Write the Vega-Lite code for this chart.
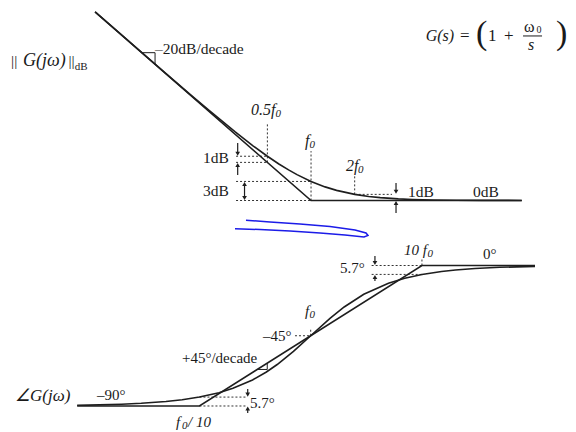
{
  "$schema": "https://vega.github.io/schema/vega-lite/v6.json",
  "background": "white",
  "padding": 0,
  "spacing": 0,
  "config": {"view": {"stroke": null}},
  "datasets": {
    "magSolid": [
      {"g": "asym", "i": 0, "f": 0.0324, "v": 29.79},
      {"g": "asym", "i": 1, "f": 1, "v": 0},
      {"g": "asym", "i": 2, "f": 28.4, "v": 0},
      {"g": "curve", "i": 0, "f": 0.0324, "v": 29.79},
      {"g": "curve", "i": 1, "f": 0.05, "v": 26.03},
      {"g": "curve", "i": 2, "f": 0.07, "v": 23.12},
      {"g": "curve", "i": 3, "f": 0.1, "v": 20.04},
      {"g": "curve", "i": 4, "f": 0.15, "v": 16.58},
      {"g": "curve", "i": 5, "f": 0.2, "v": 14.15},
      {"g": "curve", "i": 6, "f": 0.3, "v": 10.83},
      {"g": "curve", "i": 7, "f": 0.4, "v": 8.6},
      {"g": "curve", "i": 8, "f": 0.5, "v": 6.99},
      {"g": "curve", "i": 9, "f": 0.6, "v": 5.77},
      {"g": "curve", "i": 10, "f": 0.7, "v": 4.83},
      {"g": "curve", "i": 11, "f": 0.8, "v": 4.09},
      {"g": "curve", "i": 12, "f": 1, "v": 3.01},
      {"g": "curve", "i": 13, "f": 1.25, "v": 2.15},
      {"g": "curve", "i": 14, "f": 1.5, "v": 1.6},
      {"g": "curve", "i": 15, "f": 2, "v": 0.97},
      {"g": "curve", "i": 16, "f": 2.5, "v": 0.64},
      {"g": "curve", "i": 17, "f": 3, "v": 0.46},
      {"g": "curve", "i": 18, "f": 4, "v": 0.26},
      {"g": "curve", "i": 19, "f": 5, "v": 0.17},
      {"g": "curve", "i": 20, "f": 7, "v": 0.09},
      {"g": "curve", "i": 21, "f": 10, "v": 0.04},
      {"g": "curve", "i": 22, "f": 15, "v": 0.02},
      {"g": "curve", "i": 23, "f": 28.4, "v": 0.01}
    ],
    "magTick": [
      {"g": "slope", "i": 0, "f": 0.068, "v": 23.35},
      {"g": "slope", "i": 1, "f": 0.084, "v": 23.35},
      {"g": "slope", "i": 2, "f": 0.084, "v": 21.51}
    ],
    "magDash": [
      {"g": "d1", "f": 0.5, "v": 6.02}, {"g": "d1", "f": 0.5, "v": 12.2},
      {"g": "d2", "f": 0.304, "v": 6.99}, {"g": "d2", "f": 0.5, "v": 6.99},
      {"g": "d3", "f": 0.304, "v": 6.02}, {"g": "d3", "f": 0.5, "v": 6.02},
      {"g": "d4", "f": 0.304, "v": 3.01}, {"g": "d4", "f": 1, "v": 3.01},
      {"g": "d5", "f": 0.304, "v": 0}, {"g": "d5", "f": 1, "v": 0},
      {"g": "d6", "f": 1, "v": 0}, {"g": "d6", "f": 1, "v": 7.8},
      {"g": "d7", "f": 2, "v": 0.97}, {"g": "d7", "f": 2, "v": 3.9},
      {"g": "d8", "f": 2, "v": 0.97}, {"g": "d8", "f": 3.62, "v": 0.97}
    ],
    "magShaft": [
      {"g": "s1", "f": 0.312, "v": 9.08}, {"g": "s1", "f": 0.312, "v": 7.39},
      {"g": "s2", "f": 0.312, "v": 4.03}, {"g": "s2", "f": 0.312, "v": 5.62},
      {"g": "s3", "f": 0.3478, "v": 0.4}, {"g": "s3", "f": 0.3478, "v": 2.61},
      {"g": "s4", "f": 3.856, "v": 2.76}, {"g": "s4", "f": 3.856, "v": 1.37},
      {"g": "s5", "f": 3.856, "v": -1.97}, {"g": "s5", "f": 3.856, "v": -0.4}
    ],
    "magDown": [
      {"f": 0.312, "v": 7.39}, {"f": 0.3478, "v": 0.4}, {"f": 3.856, "v": 1.37}
    ],
    "magUp": [
      {"f": 0.312, "v": 5.62}, {"f": 0.3478, "v": 2.61}, {"f": 3.856, "v": -0.4}
    ],
    "magText": [
      {"t": "||", "f": 0.00853, "v": 22.04},
      {"t": "||", "f": 0.02122, "v": 22.04},
      {"t": "–20dB/decade", "f": 0.084, "v": 23.93},
      {"t": "1dB", "f": 0.1799, "v": 6.71},
      {"t": "3dB", "f": 0.1799, "v": 1.5},
      {"t": "1dB", "f": 4.667, "v": 1.34},
      {"t": "0dB", "f": 13.1, "v": 1.34}
    ],
    "magLabel": [
      {"t": "G(jω)", "f": 0.01032, "v": 22.04}
    ],
    "magItalic": [
      {"t": "0.5f", "f": 0.3857, "v": 14.3},
      {"t": "f", "f": 0.909, "v": 9.4},
      {"t": "2f", "f": 1.743, "v": 5.45}
    ],
    "magSub": [
      {"t": "dB", "f": 0.02345, "v": 21.1}
    ],
    "magSubItalic": [
      {"t": "0", "f": 0.569, "v": 13.67},
      {"t": "0", "f": 0.9765, "v": 8.77},
      {"t": "0", "f": 2.11, "v": 4.82}
    ],
    "formulaText": [
      {"t": "=", "f": 10.66, "v": 25.99},
      {"t": "1", "f": 16.6, "v": 25.99},
      {"t": "+", "f": 21.43, "v": 25.99}
    ],
    "formulaItalic": [
      {"t": "G(s)", "f": 6.18, "v": 25.99}
    ],
    "formulaParen": [
      {"t": "(", "f": 13.74, "v": 26.3},
      {"t": ")", "f": 48.94, "v": 26.3}
    ],
    "formulaOmega": [
      {"t": "ω", "f": 29.44, "v": 27.41}
    ],
    "formulaS": [
      {"t": "s", "f": 31.38, "v": 24.57}
    ],
    "formulaSub": [
      {"t": "0", "f": 35.9, "v": 26.94}
    ],
    "formulaBar": [
      {"g": "bar", "f": 28.98, "v": 25.99}, {"g": "bar", "f": 39.19, "v": 25.99}
    ],
    "phSolid": [
      {"g": "asym", "i": 0, "f": 0.00796, "v": -90},
      {"g": "asym", "i": 1, "f": 0.1, "v": -90},
      {"g": "asym", "i": 2, "f": 10, "v": 0},
      {"g": "asym", "i": 3, "f": 103.8, "v": 0},
      {"g": "curve", "i": 0, "f": 0.00796, "v": -89.54},
      {"g": "curve", "i": 1, "f": 0.01, "v": -89.43},
      {"g": "curve", "i": 2, "f": 0.02, "v": -88.85},
      {"g": "curve", "i": 3, "f": 0.03, "v": -88.28},
      {"g": "curve", "i": 4, "f": 0.05, "v": -87.14},
      {"g": "curve", "i": 5, "f": 0.07, "v": -86.0},
      {"g": "curve", "i": 6, "f": 0.1, "v": -84.29},
      {"g": "curve", "i": 7, "f": 0.15, "v": -81.47},
      {"g": "curve", "i": 8, "f": 0.2, "v": -78.69},
      {"g": "curve", "i": 9, "f": 0.3, "v": -73.3},
      {"g": "curve", "i": 10, "f": 0.4, "v": -68.2},
      {"g": "curve", "i": 11, "f": 0.5, "v": -63.43},
      {"g": "curve", "i": 12, "f": 0.7, "v": -55.01},
      {"g": "curve", "i": 13, "f": 1, "v": -45},
      {"g": "curve", "i": 14, "f": 1.5, "v": -33.69},
      {"g": "curve", "i": 15, "f": 2, "v": -26.57},
      {"g": "curve", "i": 16, "f": 3, "v": -18.43},
      {"g": "curve", "i": 17, "f": 5, "v": -11.31},
      {"g": "curve", "i": 18, "f": 7, "v": -8.13},
      {"g": "curve", "i": 19, "f": 10, "v": -5.71},
      {"g": "curve", "i": 20, "f": 15, "v": -3.81},
      {"g": "curve", "i": 21, "f": 20, "v": -2.86},
      {"g": "curve", "i": 22, "f": 30, "v": -1.91},
      {"g": "curve", "i": 23, "f": 50, "v": -1.15},
      {"g": "curve", "i": 24, "f": 103.8, "v": -0.55}
    ],
    "phTick": [
      {"g": "slope", "i": 0, "f": 0.331, "v": -66.6},
      {"g": "slope", "i": 1, "f": 0.407, "v": -66.6},
      {"g": "slope", "i": 2, "f": 0.407, "v": -62.55}
    ],
    "phDash": [
      {"g": "p1", "f": 0.1, "v": -84.29}, {"g": "p1", "f": 0.266, "v": -84.29},
      {"g": "p2", "f": 0.1, "v": -90}, {"g": "p2", "f": 0.266, "v": -90},
      {"g": "p3", "f": 0.7226, "v": -45}, {"g": "p3", "f": 1, "v": -45},
      {"g": "p4", "f": 1, "v": -45}, {"g": "p4", "f": 1, "v": -40.7},
      {"g": "p5", "f": 3.53, "v": 0}, {"g": "p5", "f": 10, "v": 0},
      {"g": "p6", "f": 3.53, "v": -5.71}, {"g": "p6", "f": 10, "v": -5.71},
      {"g": "p7", "f": 10, "v": 0}, {"g": "p7", "f": 10, "v": 4}
    ],
    "phShaft": [
      {"g": "s1", "f": 0.2716, "v": -79.1}, {"g": "s1", "f": 0.2716, "v": -82.7},
      {"g": "s2", "f": 0.2716, "v": -94.5}, {"g": "s2", "f": 0.2716, "v": -91.6},
      {"g": "s3", "f": 3.78, "v": 6.09}, {"g": "s3", "f": 3.78, "v": 1.6},
      {"g": "s4", "f": 3.78, "v": -9.93}, {"g": "s4", "f": 3.78, "v": -7.31}
    ],
    "phDown": [
      {"f": 0.2716, "v": -82.7}, {"f": 3.78, "v": 1.6}
    ],
    "phUp": [
      {"f": 0.2716, "v": -91.6}, {"f": 3.78, "v": -7.31}
    ],
    "phText": [
      {"t": "–90°", "f": 0.01199, "v": -82.95},
      {"t": "–45°", "f": 0.3725, "v": -45.16},
      {"t": "+45°/decade", "f": 0.06969, "v": -59.25},
      {"t": "5.7°", "f": 0.2847, "v": -88.08},
      {"t": "5.7°", "f": 1.834, "v": -1.6},
      {"t": "0°", "f": 35.38, "v": 7.37}
    ],
    "phLabel": [
      {"t": "∠G(jω)", "f": 0.002198, "v": -83.6}
    ],
    "phItalic": [
      {"t": "f", "f": 0.8888, "v": -29.15},
      {"t": "f", "f": 0.06153, "v": -100.25},
      {"t": "/ 10", "f": 0.07889, "v": -100.25},
      {"t": "10 f", "f": 6.898, "v": 9.93}
    ],
    "phSubItalic": [
      {"t": "0", "f": 0.9755, "v": -31.71},
      {"t": "0", "f": 0.06966, "v": -102.8},
      {"t": "0", "f": 11.23, "v": 7.37}
    ],
    "scribble": [
      {"i": 0, "f": 0.262, "v": 28.95},
      {"i": 1, "f": 0.4306, "v": 27.87},
      {"i": 2, "f": 0.801, "v": 26.58},
      {"i": 3, "f": 1.491, "v": 24.98},
      {"i": 4, "f": 2.502, "v": 22.74},
      {"i": 5, "f": 3.141, "v": 20.82},
      {"i": 6, "f": 3.273, "v": 19.22},
      {"i": 7, "f": 3.013, "v": 18.26},
      {"i": 8, "f": 2.034, "v": 19.54},
      {"i": 9, "f": 1.212, "v": 20.82},
      {"i": 10, "f": 0.6515, "v": 22.1},
      {"i": 11, "f": 0.3502, "v": 23.06},
      {"i": 12, "f": 0.2088, "v": 23.57}
    ]
  },
  "vconcat": [
    {
      "width": 576,
      "height": 215,
      "encoding": {
        "x": {"field": "f", "type": "quantitative", "scale": {"type": "log", "domain": [0.00716, 67.2], "nice": false}, "axis": null},
        "y": {"field": "v", "type": "quantitative", "scale": {"domain": [-2.29, 31.67], "nice": false, "zero": false}, "axis": null}
      },
      "layer": [
        {"data": {"name": "magDash"}, "mark": {"type": "line", "stroke": "#333", "strokeWidth": 1, "strokeDash": [2, 2]}, "encoding": {"detail": {"field": "g"}}},
        {"data": {"name": "magSolid"}, "mark": {"type": "line", "stroke": "#1e1e1e", "strokeWidth": 1.6}, "encoding": {"detail": {"field": "g"}, "order": {"field": "i"}}},
        {"data": {"name": "magTick"}, "mark": {"type": "line", "stroke": "#1e1e1e", "strokeWidth": 1}, "encoding": {"detail": {"field": "g"}, "order": {"field": "i"}}},
        {"data": {"name": "magShaft"}, "mark": {"type": "line", "stroke": "#1e1e1e", "strokeWidth": 1.2}, "encoding": {"detail": {"field": "g"}}},
        {"data": {"name": "magDown"}, "mark": {"type": "point", "shape": "triangle-down", "filled": true, "size": 22, "color": "#1e1e1e", "opacity": 1}},
        {"data": {"name": "magUp"}, "mark": {"type": "point", "shape": "triangle-up", "filled": true, "size": 22, "color": "#1e1e1e", "opacity": 1}},
        {"data": {"name": "magText"}, "mark": {"type": "text", "font": "Liberation Serif", "fontSize": 15.5, "align": "left", "baseline": "middle", "color": "#1a1a1a"}, "encoding": {"text": {"field": "t"}}},
        {"data": {"name": "magLabel"}, "mark": {"type": "text", "font": "Liberation Serif", "fontStyle": "italic", "fontSize": 18, "align": "left", "baseline": "middle", "color": "#1a1a1a"}, "encoding": {"text": {"field": "t"}}},
        {"data": {"name": "magItalic"}, "mark": {"type": "text", "font": "Liberation Serif", "fontStyle": "italic", "fontSize": 16, "align": "left", "baseline": "middle", "color": "#1a1a1a"}, "encoding": {"text": {"field": "t"}}},
        {"data": {"name": "magSub"}, "mark": {"type": "text", "font": "Liberation Serif", "fontSize": 11, "align": "left", "baseline": "middle", "color": "#1a1a1a"}, "encoding": {"text": {"field": "t"}}},
        {"data": {"name": "magSubItalic"}, "mark": {"type": "text", "font": "Liberation Serif", "fontStyle": "italic", "fontSize": 11, "align": "left", "baseline": "middle", "color": "#1a1a1a"}, "encoding": {"text": {"field": "t"}}},
        {"data": {"name": "formulaText"}, "mark": {"type": "text", "font": "Liberation Serif", "fontSize": 17, "align": "left", "baseline": "middle", "color": "#1a1a1a"}, "encoding": {"text": {"field": "t"}}},
        {"data": {"name": "formulaItalic"}, "mark": {"type": "text", "font": "Liberation Serif", "fontStyle": "italic", "fontSize": 16, "align": "left", "baseline": "middle", "color": "#1a1a1a"}, "encoding": {"text": {"field": "t"}}},
        {"data": {"name": "formulaParen"}, "mark": {"type": "text", "font": "Liberation Serif", "fontSize": 34, "align": "left", "baseline": "middle", "color": "#1a1a1a"}, "encoding": {"text": {"field": "t"}}},
        {"data": {"name": "formulaOmega"}, "mark": {"type": "text", "font": "Liberation Serif", "fontSize": 16, "align": "left", "baseline": "middle", "color": "#1a1a1a"}, "encoding": {"text": {"field": "t"}}},
        {"data": {"name": "formulaS"}, "mark": {"type": "text", "font": "Liberation Serif", "fontStyle": "italic", "fontSize": 16, "align": "left", "baseline": "middle", "color": "#1a1a1a"}, "encoding": {"text": {"field": "t"}}},
        {"data": {"name": "formulaSub"}, "mark": {"type": "text", "font": "Liberation Serif", "fontSize": 10, "align": "left", "baseline": "middle", "color": "#1a1a1a"}, "encoding": {"text": {"field": "t"}}},
        {"data": {"name": "formulaBar"}, "mark": {"type": "line", "stroke": "#1a1a1a", "strokeWidth": 1}, "encoding": {"detail": {"field": "g"}}}
      ]
    },
    {
      "width": 576,
      "height": 217,
      "encoding": {
        "x": {"field": "f", "type": "quantitative", "scale": {"type": "log", "domain": [0.001612, 242.5], "nice": false}, "axis": null},
        "y": {"field": "v", "type": "quantitative", "scale": {"domain": [-107.3, 31.71], "nice": false, "zero": false}, "axis": null}
      },
      "layer": [
        {"data": {"name": "scribble"}, "mark": {"type": "line", "stroke": "#1c1ce8", "strokeWidth": 1.5}, "encoding": {"order": {"field": "i"}}},
        {"data": {"name": "phDash"}, "mark": {"type": "line", "stroke": "#333", "strokeWidth": 1, "strokeDash": [2, 2]}, "encoding": {"detail": {"field": "g"}}},
        {"data": {"name": "phSolid"}, "mark": {"type": "line", "stroke": "#1e1e1e", "strokeWidth": 1.6}, "encoding": {"detail": {"field": "g"}, "order": {"field": "i"}}},
        {"data": {"name": "phTick"}, "mark": {"type": "line", "stroke": "#1e1e1e", "strokeWidth": 1}, "encoding": {"detail": {"field": "g"}, "order": {"field": "i"}}},
        {"data": {"name": "phShaft"}, "mark": {"type": "line", "stroke": "#1e1e1e", "strokeWidth": 1.2}, "encoding": {"detail": {"field": "g"}}},
        {"data": {"name": "phDown"}, "mark": {"type": "point", "shape": "triangle-down", "filled": true, "size": 22, "color": "#1e1e1e", "opacity": 1}},
        {"data": {"name": "phUp"}, "mark": {"type": "point", "shape": "triangle-up", "filled": true, "size": 22, "color": "#1e1e1e", "opacity": 1}},
        {"data": {"name": "phText"}, "mark": {"type": "text", "font": "Liberation Serif", "fontSize": 15, "align": "left", "baseline": "middle", "color": "#1a1a1a"}, "encoding": {"text": {"field": "t"}}},
        {"data": {"name": "phLabel"}, "mark": {"type": "text", "font": "Liberation Serif", "fontStyle": "italic", "fontSize": 17, "align": "left", "baseline": "middle", "color": "#1a1a1a"}, "encoding": {"text": {"field": "t"}}},
        {"data": {"name": "phItalic"}, "mark": {"type": "text", "font": "Liberation Serif", "fontStyle": "italic", "fontSize": 15, "align": "left", "baseline": "middle", "color": "#1a1a1a"}, "encoding": {"text": {"field": "t"}}},
        {"data": {"name": "phSubItalic"}, "mark": {"type": "text", "font": "Liberation Serif", "fontStyle": "italic", "fontSize": 11, "align": "left", "baseline": "middle", "color": "#1a1a1a"}, "encoding": {"text": {"field": "t"}}}
      ]
    }
  ]
}
